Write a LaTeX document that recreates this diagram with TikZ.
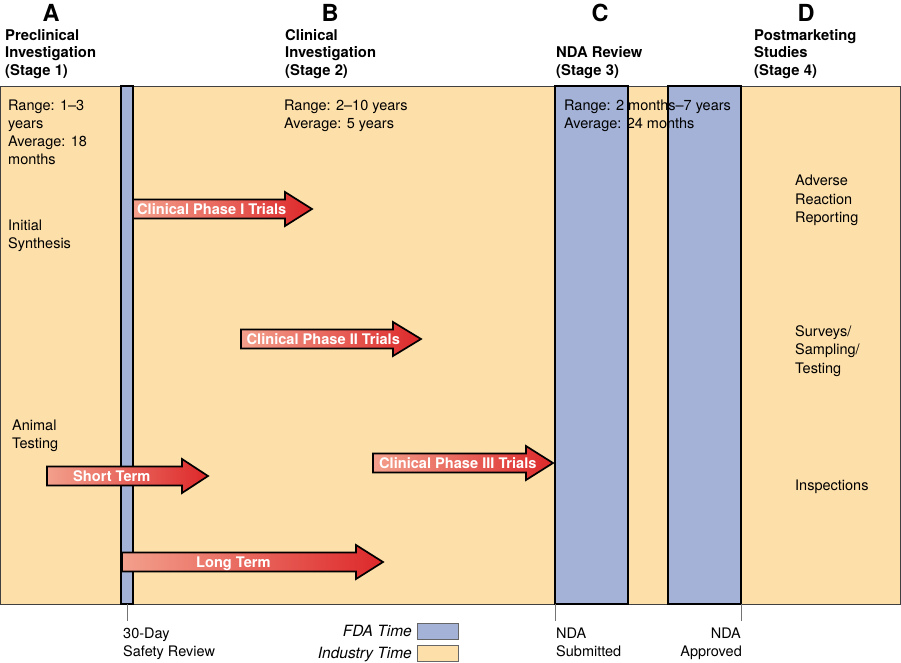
\documentclass[tikz,border=0pt]{standalone}
\usepackage{fontspec}
\setmainfont{TeX Gyre Heros}
\definecolor{ind}{RGB}{253,223,170}
\definecolor{fda}{RGB}{163,178,214}
\definecolor{arL}{RGB}{243,160,140}
\definecolor{arR}{RGB}{221,40,42}
\newcommand\trialarrow[7]{%
  \shade[left color=arL,right color=arR,draw=black,line width=1.7pt,line join=miter]
    (#2,#5-9.5) -- (#3,#5-9.5) -- (#3,#5-17) -- (#4,#5) -- (#3,#5+17) -- (#3,#5+9.5) -- (#2,#5+9.5) -- cycle;
  \node[arrtxt] (#1) at (#7,#5+5) {#6};}
\begin{document}
\begin{tikzpicture}[x=1pt,y=-1pt,
  txt/.style={anchor=base west,inner sep=0pt,font=\fontsize{14.5}{18}\selectfont},
  hdr/.style={anchor=base west,inner sep=0pt,font=\fontsize{14.8}{18}\selectfont\bfseries},
  letter/.style={anchor=base,inner sep=0pt,font=\fontsize{23.5}{26}\selectfont\bfseries},
  arrtxt/.style={anchor=base west,inner sep=0pt,text=white,font=\fontsize{14.6}{18}\selectfont\bfseries},
  legtxt/.style={anchor=base east,inner sep=0pt,font=\fontsize{15.5}{18}\selectfont\itshape},
  bar/.style={fill=fda,draw=black,line width=1.8pt},
  tick/.style={draw=black!55,line width=0.8pt},
  legbox/.style={draw=black!60,line width=0.8pt,minimum width=41pt,minimum height=16pt,inner sep=0pt,anchor=north west}]
\useasboundingbox (0,0) rectangle (901,662);
% background
\draw[fill=ind,draw=black!75,line width=1pt] (0.5,86) rectangle (900.5,604);
% FDA bars
\draw[bar] (121,86) rectangle (133,604);
\draw[bar] (555,86) rectangle (628,604);
\draw[bar] (668,86) rectangle (741,604);
% ticks
\coordinate (t1a) at (127,604); \coordinate (t1b) at (127,621);
\coordinate (t2a) at (555,604); \coordinate (t2b) at (555,621);
\coordinate (t3a) at (741,604); \coordinate (t3b) at (741,621);
\draw[tick] (t1a) -- (t1b);
\draw[tick] (t2a) -- (t2b);
\draw[tick] (t3a) -- (t3b);
% arrows
\trialarrow{p1}{133}{285}{312}{209}{Clinical Phase I Trials}{137}
\trialarrow{p2}{241}{393}{421}{339}{Clinical Phase II Trials}{246.5}
\trialarrow{p3}{373}{526}{553}{463}{Clinical Phase III Trials}{379}
\trialarrow{st}{47}{182}{208}{476}{Short Term}{73}
\trialarrow{lt}{122}{356}{383}{562}{Long Term}{196}
% headers
\node[letter] (A) at (51,21) {A};
\node[letter] (B) at (330,21) {B};
\node[letter] (C) at (600,21) {C};
\node[letter] (D) at (806,21) {D};
\node[hdr] (a1) at (5,40) {Preclinical};
\node[hdr] (a2) at (5,57.5) {Investigation};
\node[hdr] (a3) at (5,75) {(Stage 1)};
\node[hdr] (b1) at (285,40) {Clinical};
\node[hdr] (b2) at (285,57.5) {Investigation};
\node[hdr] (b3) at (285,75) {(Stage 2)};
\node[hdr] (c2) at (556,57.5) {NDA Review};
\node[hdr] (c3) at (556,75) {(Stage 3)};
\node[hdr] (d1) at (754,40) {Postmarketing};
\node[hdr] (d2) at (754,57.5) {Studies};
\node[hdr] (d3) at (754,75) {(Stage 4)};
% stage 1 texts
\node[txt] (r1) at (8,110) {Range: 1–3};
\node[txt] (r2) at (8,128) {years};
\node[txt] (r3) at (8,146.5) {Average: 18};
\node[txt] (r4) at (8,164.5) {months};
\node[txt] (is1) at (8,230) {Initial};
\node[txt] (is2) at (8,248) {Synthesis};
\node[txt] (an1) at (12,430) {Animal};
\node[txt] (an2) at (12,448) {Testing};
% stage 2 texts
\node[txt] (s2a) at (284,110) {Range: 2–10 years};
\node[txt] (s2b) at (284,128) {Average: 5 years};
% stage 3 texts
\node[txt] (s3a) at (564,110) {Range: 2 months–7 years};
\node[txt] (s3b) at (564,128) {Average: 24 months};
% stage 4 texts
\node[txt] (ad1) at (795,185.5) {Adverse};
\node[txt] (ad2) at (795,204) {Reaction};
\node[txt] (ad3) at (795,222) {Reporting};
\node[txt] (su1) at (795,336) {Surveys/};
\node[txt] (su2) at (795,354.5) {Sampling/};
\node[txt] (su3) at (795,373) {Testing};
\node[txt] (in1) at (795,490) {Inspections};
% bottom labels
\node[txt] (sr1) at (123,638) {30-Day};
\node[txt] (sr2) at (123,656.5) {Safety Review};
\node[txt] (ns1) at (556,638) {NDA};
\node[txt] (ns2) at (556,656.5) {Submitted};
\node[txt,anchor=base east] (na1) at (741,638) {NDA};
\node[txt,anchor=base east] (na2) at (742,656.5) {Approved};
% legend
\node[legtxt] (fdat) at (412,636) {FDA Time};
\node[legtxt] (indt) at (412,658) {Industry Time};
\node[legbox,fill=fda] (fdabox) at (417,623) {};
\node[legbox,fill=ind] (indbox) at (417,644.5) {};
\end{tikzpicture}
\end{document}
